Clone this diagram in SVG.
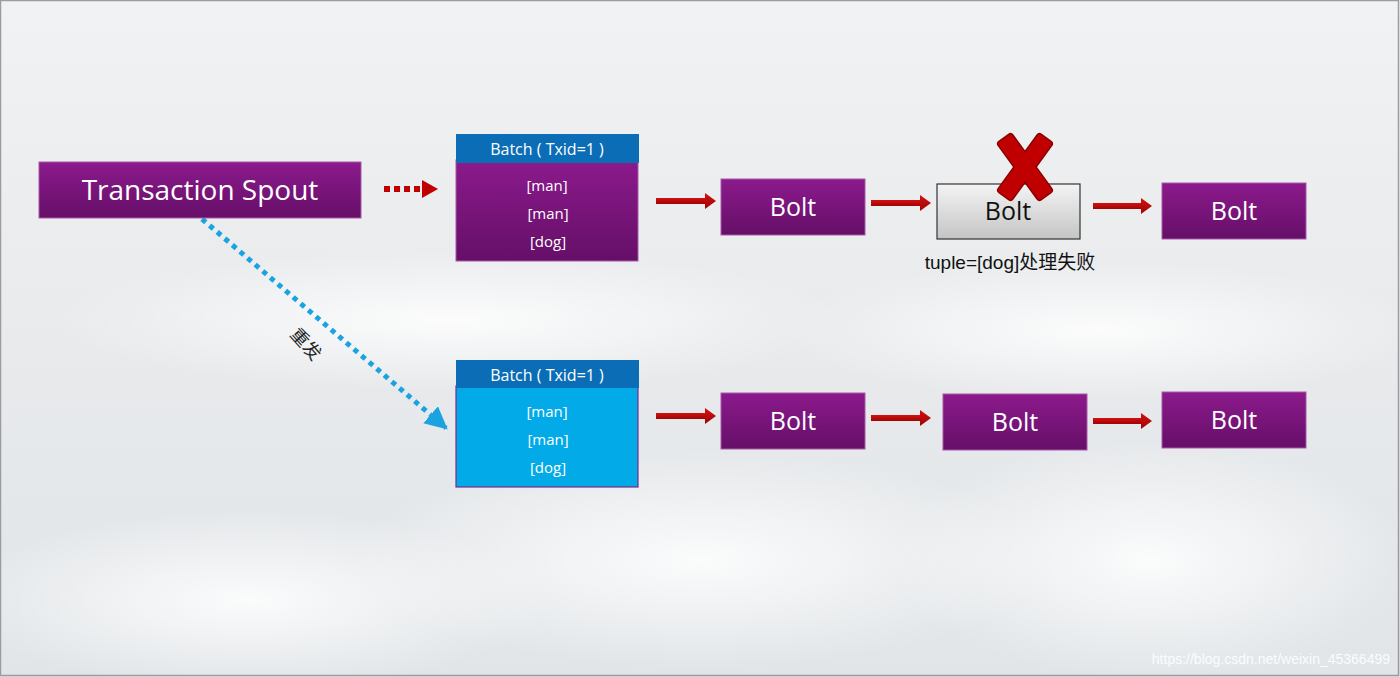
<svg xmlns="http://www.w3.org/2000/svg" width="1400" height="677" viewBox="0 0 1400 677">
<defs>
  <linearGradient id="bg" x1="0" y1="0" x2="0" y2="1">
    <stop offset="0" stop-color="#f1f2f3"/>
    <stop offset="0.5" stop-color="#e8eaec"/>
    <stop offset="1" stop-color="#e1e5e8"/>
  </linearGradient>
  <radialGradient id="cloud" cx="0.5" cy="0.5" r="0.5">
    <stop offset="0" stop-color="#ffffff" stop-opacity="0.85"/>
    <stop offset="1" stop-color="#ffffff" stop-opacity="0"/>
  </radialGradient>
  <linearGradient id="purple" x1="0" y1="0" x2="0" y2="1">
    <stop offset="0" stop-color="#8c1a8c"/>
    <stop offset="1" stop-color="#650f68"/>
  </linearGradient>
  <linearGradient id="gray" x1="0" y1="0" x2="0" y2="1">
    <stop offset="0" stop-color="#f4f4f4"/>
    <stop offset="1" stop-color="#c4c4c4"/>
  </linearGradient>
  <linearGradient id="red" x1="0" y1="0" x2="0" y2="1">
    <stop offset="0" stop-color="#d41010"/>
    <stop offset="1" stop-color="#9e0505"/>
  </linearGradient>
  <marker id="blueHead" viewBox="0 0 10 10" refX="9" refY="5" markerWidth="4.5" markerHeight="4.5" orient="auto" markerUnits="strokeWidth">
    <path d="M0,0 L10,5 L0,10 z" fill="#1aa3e0"/>
  </marker>
  <style>
    .pbox{fill:url(#purple);stroke:#a858a8;stroke-width:1}
    .wt{fill:#ffffff;font-family:"Open Sans","Noto Sans",sans-serif;text-anchor:middle}
    .bolt{font-size:25px}
    .item{font-size:15px}
    .head{font-size:16px}
    .hdr{fill:#0b6db6}
    .redarrow{fill:url(#red)}
  </style>
</defs>
<rect x="0" y="0" width="1400" height="677" fill="url(#bg)"/>
<ellipse cx="250" cy="600" rx="300" ry="90" fill="url(#cloud)"/>
<ellipse cx="700" cy="560" rx="350" ry="110" fill="url(#cloud)"/>
<ellipse cx="1150" cy="560" rx="260" ry="120" fill="url(#cloud)"/>
<ellipse cx="450" cy="320" rx="400" ry="70" fill="url(#cloud)"/>
<ellipse cx="1100" cy="330" rx="320" ry="70" fill="url(#cloud)"/>
<rect x="0.5" y="0.5" width="1398" height="675" fill="none" stroke="#9a9c9e" stroke-width="1.5"/>

<g id="connectors">
  <line x1="384" y1="189" x2="422" y2="189" stroke="#c00000" stroke-width="6" stroke-dasharray="6,4"/>
  <polygon points="422,180 438,189 422,198" fill="#c00000"/>
  <line x1="202" y1="219" x2="446" y2="428" stroke="#1aa3e0" stroke-width="5" stroke-dasharray="5,5" marker-end="url(#blueHead)"/>
  <text x="305" y="345" transform="rotate(48 305 345)" font-family="'Noto Sans CJK SC',sans-serif" font-size="18" fill="#222" text-anchor="middle" dominant-baseline="middle">重发</text>
  <g class="redarrow">
    <rect x="656" y="198" width="50" height="6"/><polygon points="705,193 716,201 705,209"/>
    <rect x="871" y="200" width="50" height="6"/><polygon points="920,195 931,203 920,211"/>
    <rect x="1093" y="203" width="49" height="6"/><polygon points="1141,198 1152,206 1141,214"/>
    <rect x="656" y="413" width="50" height="6"/><polygon points="705,408 716,416 705,424"/>
    <rect x="871" y="415" width="50" height="6"/><polygon points="920,410 931,418 920,426"/>
    <rect x="1093" y="418" width="49" height="6"/><polygon points="1141,413 1152,421 1141,429"/>
  </g>
</g>

<g id="spout">
  <rect class="pbox" x="39" y="162" width="322" height="56"/>
  <text class="wt" x="200" y="200" font-size="28">Transaction Spout</text>
</g>

<g id="batch1">
  <rect class="pbox" x="456" y="160" width="182" height="101"/>
  <rect class="hdr" x="456" y="134" width="183" height="29"/>
  <text class="wt head" x="547" y="155">Batch ( Txid=1 )</text>
  <text class="wt item" x="547" y="191">[man]</text>
  <text class="wt item" x="548" y="219">[man]</text>
  <text class="wt item" x="548" y="247">[dog]</text>
</g>

<g id="bolt1">
  <rect class="pbox" x="721" y="179" width="144" height="56"/>
  <text class="wt bolt" x="793" y="216">Bolt</text>
</g>

<g id="boltFail">
  <rect x="937" y="184" width="143" height="55" fill="url(#gray)" stroke="#333" stroke-width="1.2"/>
  <text x="1008" y="220" font-family="'Open Sans','Noto Sans',sans-serif" font-size="25" fill="#111" text-anchor="middle">Bolt</text>
  <g transform="translate(1025 167)" fill="#c00000" stroke="#8a0000" stroke-width="1.5">
    <rect x="-9" y="-36" width="18" height="72" rx="3" transform="rotate(36)"/>
    <rect x="-9" y="-36" width="18" height="72" rx="3" transform="rotate(-36)"/>
    <rect x="-8" y="-34" width="16" height="68" rx="3" transform="rotate(36)" stroke="none"/>
  </g>
  <text x="1010" y="269" font-family="'Liberation Sans','Noto Sans CJK SC',sans-serif" font-size="19" fill="#111" text-anchor="middle">tuple=[dog]处理失败</text>
</g>

<g id="bolt3">
  <rect class="pbox" x="1162" y="183" width="144" height="56"/>
  <text class="wt bolt" x="1234" y="220">Bolt</text>
</g>

<g id="batch2">
  <rect x="456" y="386" width="182" height="101" fill="#02aae8" stroke="#7a2a8a" stroke-width="1.2"/>
  <rect class="hdr" x="456" y="360" width="183" height="28"/>
  <text class="wt head" x="547" y="381">Batch ( Txid=1 )</text>
  <text class="wt item" x="547" y="417">[man]</text>
  <text class="wt item" x="548" y="445">[man]</text>
  <text class="wt item" x="548" y="473">[dog]</text>
</g>

<g id="bolt4">
  <rect class="pbox" x="721" y="393" width="144" height="56"/>
  <text class="wt bolt" x="793" y="430">Bolt</text>
</g>
<g id="bolt5">
  <rect class="pbox" x="943" y="394" width="144" height="56"/>
  <text class="wt bolt" x="1015" y="431">Bolt</text>
</g>
<g id="bolt6">
  <rect class="pbox" x="1162" y="392" width="144" height="56"/>
  <text class="wt bolt" x="1234" y="429">Bolt</text>
</g>

<text x="1390" y="664" font-family="'Liberation Sans',sans-serif" font-size="14" fill="#ffffff" fill-opacity="0.9" text-anchor="end">https://blog.csdn.net/weixin_45366499</text>
</svg>
